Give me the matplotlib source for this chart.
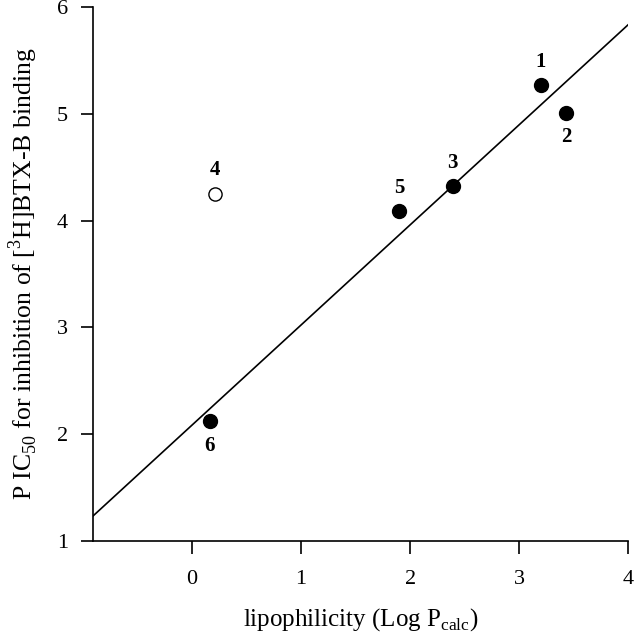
import numpy as np
import matplotlib
matplotlib.use("Agg")
import matplotlib.pyplot as plt

plt.rcParams['font.family'] = ['Liberation Serif', 'DejaVu Serif']
plt.rcParams['mathtext.fontset'] = 'custom'
plt.rcParams['mathtext.rm'] = 'Liberation Serif'

# compounds 1-6, lipophilicity vs pIC50
labels = ['1', '2', '3', '4', '5', '6']
log_p = [3.20, 3.43, 2.39, 0.21, 1.90, 0.16]
pic50 = [5.27, 5.01, 4.32, 4.25, 4.09, 2.12]
outlier = ['4']  # open circle, left out of the fit
label_above = ['1', '3', '4', '5']

fig = plt.figure(figsize=(6.34, 6.40), dpi=100)
ax = fig.add_axes([0.1467, 0.1547, 0.8438, 0.8343])

# regression without the outlier
fx = [x for x, l in zip(log_p, labels) if l not in outlier]
fy = [y for y, l in zip(pic50, labels) if l not in outlier]
slope, icpt = np.polyfit(fx, fy, 1)
xl = np.array([-0.91, 4.0])
ax.plot(xl, slope * xl + icpt, color='black', lw=1.2)

for x, y, l in zip(log_p, pic50, labels):
    if l in outlier:
        ax.plot(x, y, 'o', ms=9.5, mfc='white', mec='black', mew=1.0)
    else:
        ax.plot(x, y, 'o', ms=10, color='black')
    dy = 0.22 if l in label_above else -0.23
    ax.text(x, y + dy, l, ha='center', va='center', fontsize=15, fontweight='bold')

ax.set_xlim(-0.91, 4.0)
ax.set_ylim(1, 6)
ax.set_xticks([0, 1, 2, 3, 4])
ax.set_yticks([1, 2, 3, 4, 5, 6])
ax.spines['top'].set_visible(False)
ax.spines['right'].set_visible(False)
for s in ['left', 'bottom']:
    ax.spines[s].set_linewidth(1.2)
ax.tick_params(direction='out', length=9, width=1.2, labelsize=16)
ax.tick_params(axis='x', pad=12)
ax.tick_params(axis='y', pad=9)

ax.set_xlabel(r'lipophilicity (Log P$_{\mathrm{calc}}$)', fontsize=18, labelpad=12)
ax.set_ylabel(r'P IC$_{50}$ for inhibition of [$^{3}$H]BTX-B binding', fontsize=18.5, labelpad=12)

fig.savefig('out.png', dpi=100)
